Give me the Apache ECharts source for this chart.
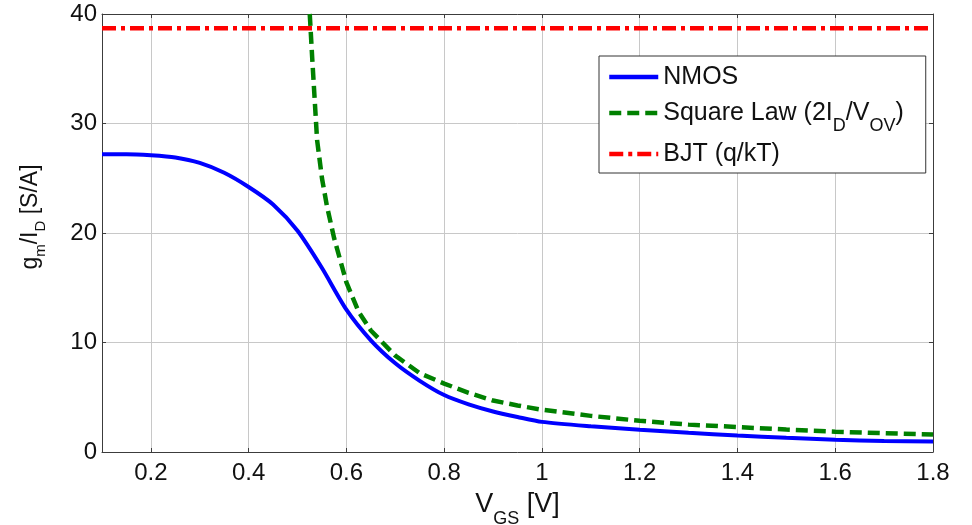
<!DOCTYPE html>
<html>
<head>
<meta charset="utf-8">
<script src="https://cdn.jsdelivr.net/npm/echarts@6.0.0/dist/echarts.min.js"></script>
<style>
  html, body { margin: 0; padding: 0; background: #fff; }
  #chart { width: 972px; height: 525px; }
</style>
</head>
<body>
<div id="chart"></div>
<script>
// V_GS sweep and gm/ID
const vgsNmos = [0.1, 0.15, 0.2, 0.25, 0.3, 0.35, 0.4, 0.45, 0.5, 0.55, 0.6, 0.65, 0.7, 0.75, 0.8, 0.85, 0.9, 0.95, 1.0, 1.1, 1.2, 1.3, 1.4, 1.5, 1.6, 1.7, 1.8]
const gmIdNmos = [27.2, 27.2, 27.1, 26.9, 26.4, 25.5, 24.2, 22.6, 20.2, 16.8, 13.0, 10.2, 8.1, 6.5, 5.2, 4.35, 3.7, 3.2, 2.75, 2.35, 2.04, 1.75, 1.5, 1.3, 1.12, 1.0, 0.97]

const vgsSquare = [0.525, 0.53, 0.54, 0.55, 0.56, 0.575, 0.6, 0.625, 0.65, 0.7, 0.75, 0.8, 0.85, 0.9, 0.95, 1.0, 1.1, 1.2, 1.3, 1.4, 1.5, 1.6, 1.7, 1.8]
const gmIdSquare = [40, 36, 28.5, 25, 22.5, 19.5, 15.5, 12.8, 11.1, 8.8, 7.2, 6.25, 5.4, 4.7, 4.25, 3.86, 3.3, 2.85, 2.5, 2.28, 2.05, 1.85, 1.72, 1.6]

const vgsBjt = [0.1, 1.8]
const gmIdBjt = [38.7, 38.7]

const xTicks = [0.2, 0.4, 0.6, 0.8, 1.0, 1.2, 1.4, 1.6, 1.8]

const seriesNames = ['NMOS', 'Square Law (2ID/VOV)', 'BJT (q/kT)']
const legendLabels = {
  'NMOS': 'NMOS',
  'Square Law (2ID/VOV)': 'Square Law (2I{sub|D}/V{sub|OV})',
  'BJT (q/kT)': 'BJT (q/kT)',
}

const zip = (xs, ys) => xs.map((x, i) => [x, ys[i]])

const FONT = '"Liberation Sans", Arial, sans-serif'
const axisColor = '#3c3c3c'
const gridColor = '#c8c8c8'
const textColor = '#111'

// subscript: smaller font pushed down by top padding; tiny box height so the line doesn't grow
const sub = (size, drop, lh) => ({
  fontFamily: FONT, fontSize: size, color: textColor, lineHeight: lh, height: 1, padding: [drop, 0, 0, 0],
})

const chart = echarts.init(document.getElementById('chart'))

chart.setOption({
  animation: false,
  textStyle: { fontFamily: FONT },
  grid: { left: 102, right: 39, top: 14, bottom: 73, outerBoundsMode: 'none' },
  legend: {
    data: seriesNames,
    orient: 'vertical',
    left: 599,
    top: 56,
    padding: [4, 22, 2, 8],
    itemGap: 2,
    itemWidth: 49,
    itemHeight: 14,
    backgroundColor: '#fff',
    borderColor: '#333',
    borderWidth: 1,
    borderRadius: 0,
    itemStyle: { opacity: 0 },
    lineStyle: { width: 4.5 },
    formatter: (name) => legendLabels[name],
    textStyle: {
      fontFamily: FONT,
      fontSize: 25,
      color: textColor,
      lineHeight: 34,
      rich: { sub: sub(18, 26, 34) },
    },
  },
  xAxis: [
    {
      type: 'value',
      min: 0.1,
      max: 1.8,
      position: 'bottom',
      name: 'V{sub|GS} [V]',
      nameLocation: 'middle',
      nameGap: 27,
      nameTextStyle: {
        fontFamily: FONT,
        fontSize: 27,
        color: textColor,
        lineHeight: 30,
        rich: { sub: sub(18, 28, 30) },
      },
      axisLine: { show: true, onZero: false, lineStyle: { color: axisColor, width: 1 } },
      axisTick: { show: true, inside: true, length: 4, customValues: xTicks, lineStyle: { color: axisColor } },
      axisLabel: {
        customValues: xTicks,
        fontSize: 24,
        color: textColor,
        margin: 9,
        formatter: (v) => String(Math.round(v * 10) / 10),
      },
      splitLine: { show: true, lineStyle: { color: gridColor, width: 1 } },
    },
    {
      type: 'value',
      min: 0.1,
      max: 1.8,
      position: 'top',
      axisLine: { show: true, onZero: false, lineStyle: { color: axisColor, width: 1 } },
      axisTick: { show: true, inside: true, length: 4, customValues: xTicks, lineStyle: { color: axisColor } },
      axisLabel: { show: false },
      splitLine: { show: false },
    },
  ],
  yAxis: [
    {
      type: 'value',
      min: 0,
      max: 40,
      interval: 10,
      position: 'left',
      name: 'g{sub|m}/I{sub|D} [S/A]',
      nameLocation: 'middle',
      nameGap: 60,
      nameTextStyle: {
        fontFamily: FONT,
        fontSize: 23,
        color: textColor,
        lineHeight: 23,
        padding: [0, 0, 0, 32],
        rich: { sub: sub(15, 21, 23) },
      },
      axisLine: { show: true, onZero: false, lineStyle: { color: axisColor, width: 1 } },
      axisTick: { show: true, inside: true, length: 4, lineStyle: { color: axisColor } },
      axisLabel: { fontSize: 24, color: textColor, margin: 5 },
      splitLine: { show: true, lineStyle: { color: gridColor, width: 1 } },
    },
    {
      type: 'value',
      min: 0,
      max: 40,
      interval: 10,
      position: 'right',
      axisLine: { show: true, onZero: false, lineStyle: { color: axisColor, width: 1 } },
      axisTick: { show: true, inside: true, length: 4, lineStyle: { color: axisColor } },
      axisLabel: { show: false },
      splitLine: { show: false },
    },
  ],
  series: [
    {
      name: seriesNames[0],
      type: 'line',
      symbol: 'none',
      smooth: 0.25,
      data: zip(vgsNmos, gmIdNmos),
      lineStyle: { color: '#0000ff', width: 4 },
      itemStyle: { color: '#0000ff' },
    },
    {
      name: seriesNames[1],
      type: 'line',
      symbol: 'none',
      data: zip(vgsSquare, gmIdSquare),
      lineStyle: { color: '#008000', width: 4.5, type: [12, 6] },
      itemStyle: { color: '#008000' },
    },
    {
      name: seriesNames[2],
      type: 'line',
      symbol: 'none',
      data: zip(vgsBjt, gmIdBjt),
      lineStyle: { color: '#ff0000', width: 4.5, type: [14, 5, 4, 5] },
      itemStyle: { color: '#ff0000' },
    },
  ],
})
</script>
</body>
</html>
